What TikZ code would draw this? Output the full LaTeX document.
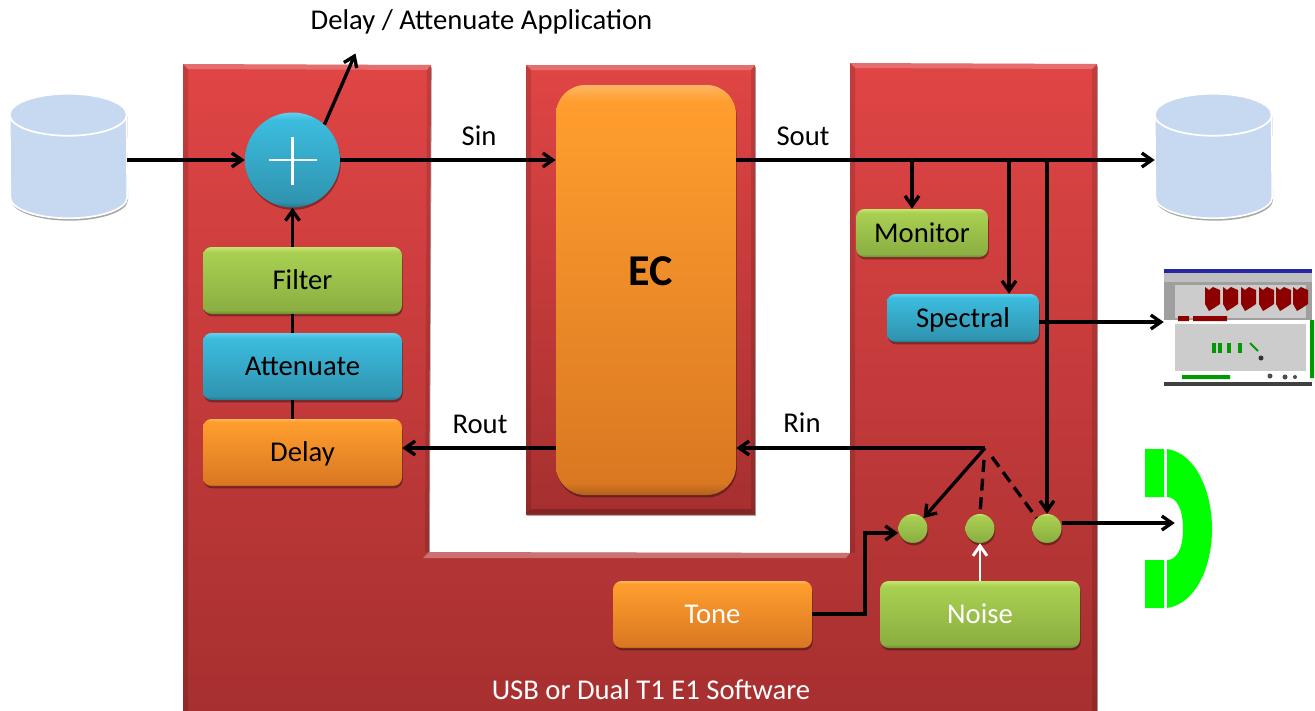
\documentclass[tikz,border=0pt]{standalone}
\usepackage{fontspec}
\setmainfont{Carlito}
\usetikzlibrary{arrows.meta,shadows,calc}
\definecolor{redT}{HTML}{E04545}\definecolor{redB}{HTML}{A62F2F}
\definecolor{dbfill}{HTML}{C6D9F1}
\definecolor{phonegreen}{HTML}{00FF00}
\definecolor{gE}{HTML}{C4E56E}\definecolor{gT}{HTML}{A9D052}\definecolor{gB}{HTML}{8BAF41}\definecolor{gD}{HTML}{6F8C33}
\definecolor{bE}{HTML}{62D0EC}\definecolor{bT}{HTML}{3CBCDE}\definecolor{bB}{HTML}{2F94B0}\definecolor{bD}{HTML}{25768C}
\definecolor{oE}{HTML}{FFB662}\definecolor{oT}{HTML}{FF9E2E}\definecolor{oB}{HTML}{DA7822}\definecolor{oD}{HTML}{B0611B}
\pgfdeclareverticalshading{redbody}{100bp}{color(0bp)=(redB);color(25bp)=(redB);color(75bp)=(redT);color(100bp)=(redT)}
\pgfdeclareverticalshading{greenbox}{100bp}{color(0bp)=(gD);color(25bp)=(gD);color(28bp)=(gB);color(71bp)=(gT);color(75bp)=(gE);color(100bp)=(gE)}
\pgfdeclareverticalshading{bluebox}{100bp}{color(0bp)=(bD);color(25bp)=(bD);color(28bp)=(bB);color(71bp)=(bT);color(75bp)=(bE);color(100bp)=(bE)}
\pgfdeclareverticalshading{orangebox}{100bp}{color(0bp)=(oD);color(25bp)=(oD);color(26.5bp)=(oB);color(73bp)=(oT);color(75bp)=(oE);color(100bp)=(oE)}
\tikzset{
  x=0.75pt,y=-0.75pt,
  sz/.style 2 args={minimum width=#1*0.75pt,minimum height=#2*0.75pt,inner sep=0pt},
  softshadow/.style={drop shadow={shadow xshift=0.6pt,shadow yshift=-1.8pt,opacity=0.35,fill=black}},
  boxbase/.style={rectangle,rounded corners=6.5pt,softshadow,font=\fontsize{21.5}{24}\selectfont,text=black,text height=15pt,text depth=1.4pt},
  gbox/.style={boxbase,shading=greenbox},
  bbox/.style={boxbase,shading=bluebox},
  obox/.style={boxbase,shading=orangebox},
  whitetext/.style={text=white},
  dot/.style={circle,sz={29}{29},shading=greenbox,softshadow},
  adderstyle/.style={circle,sz={95}{95},shading=bluebox,softshadow},
  dbstyle/.style={rectangle,sz={117}{124}},
  lbl/.style={font=\fontsize{21.5}{24}\selectfont,text=black,inner sep=0pt,text height=15pt,text depth=1.4pt},
  arr/.style={line width=2.5pt,black,-{Straight Barb[length=7.5pt,width=10.5pt,line width=2.5pt]}},
  plain/.style={line width=2.5pt,black},
  dashline/.style={line width=2.5pt,black,dash pattern=on 9pt off 5pt},
  whitearr/.style={line width=2.2pt,white,-{Straight Barb[length=7.5pt,width=10.5pt,line width=2.2pt]}},
  bodyface/.style={shading=redbody,softshadow},
}
\newcommand{\dbshape}[1]{%
  \path[fill=dbfill,draw=white,line width=1.3pt,softshadow]
    ($(#1.north west)+(0,21)$) arc[x radius=58.5,y radius=21,start angle=180,end angle=360]
    -- ($(#1.south east)+(0,-21)$) arc[x radius=58.5,y radius=21,start angle=0,end angle=180] -- cycle;
  \draw[white,line width=1.3pt] ($(#1.north west)+(0,21)$) arc[x radius=58.5,y radius=21,start angle=180,end angle=0];
}
\begin{document}
\begin{tikzpicture}
\useasboundingbox (0,0) rectangle (1315,711);
\fill[white] (0,0) rectangle (1315,711);
% red bodies
\clip (0,0) rectangle (1315,711);
\path[bodyface] (183,64) -- (431,65) -- (429,552) -- (850,553) -- (850,63) -- (1097,64) -- (1097,720) -- (183,720) -- cycle;
\path[shading=redbody,softshadow] (526,65) rectangle (755,514);
% bevel strips
\fill[white,opacity=.22] (183,64) -- (431,65) -- (427,70) -- (188,69) -- cycle;
\fill[white,opacity=.22] (526,65) -- (755,65) -- (751,70) -- (531,70) -- cycle;
\fill[white,opacity=.22] (850,63) -- (1097,64) -- (1092,69) -- (855,68) -- cycle;
\fill[white,opacity=.3] (429,552) -- (850,553) -- (846,558) -- (423,558) -- cycle;
\fill[black,opacity=.12] (183,64) -- (188,69) -- (188,711) -- (183,711) -- cycle;
\fill[black,opacity=.12] (431,65) -- (427,70) -- (425,552) -- (429,552) -- cycle;
\fill[black,opacity=.12] (526,65) -- (531,70) -- (531,509) -- (526,514) -- cycle;
\fill[black,opacity=.12] (755,65) -- (751,70) -- (751,509) -- (755,514) -- cycle;
\fill[black,opacity=.2] (526,514) -- (531,509) -- (751,509) -- (755,514) -- cycle;
\fill[black,opacity=.12] (850,63) -- (855,68) -- (855,553) -- (850,553) -- cycle;
\fill[black,opacity=.12] (1097,64) -- (1092,69) -- (1092,711) -- (1097,711) -- cycle;
% nodes
\node[dbstyle] (dbL) at (68.5,156) {};
\node[dbstyle] (dbR) at (1213.5,156) {};
\dbshape{dbL}
\dbshape{dbR}
\node[adderstyle] (adder) at (292.5,160) {};
\node[obox,sz={180}{410},rounded corners=22pt] (ec) at (646,290) {};
\node[font=\fontsize{33}{36}\selectfont\bfseries,inner sep=0pt] (ectext) at (651,271) {EC};
\node[gbox,sz={199}{67}] (filter) at (302.5,280.5) {Filter};
\node[bbox,sz={199}{67}] (att) at (302.5,366.5) {Attenuate};
\node[obox,sz={199}{67}] (delay) at (302.5,452.5) {Delay};
\node[gbox,sz={132}{48}] (monitor) at (922,233) {Monitor};
\node[bbox,sz={152}{48}] (spectral) at (963,318) {Spectral};
\node[obox,sz={199}{67},whitetext] (tone) at (712.5,614.5) {Tone};
\node[gbox,sz={200}{67},whitetext] (noise) at (980,614.5) {Noise};
\node[dot] (d1) at (913,528.5) {};
\node[dot] (d2) at (980,528.5) {};
\node[dot] (d3) at (1047,528.5) {};
% labels
\node[lbl] (appl) at (481.5,20) {Delay / Attenuate Application};
\node[lbl] (sin) at (479,136) {Sin};
\node[lbl] (sout) at (803,136) {Sout};
\node[lbl] (rout) at (480,424) {Rout};
\node[lbl] (rin) at (802,423) {Rin};
\node[lbl,text=white] (usb) at (651,690) {USB or Dual T1 E1 Software};
% plus sign
\coordinate (pl) at (269,160);\coordinate (pr) at (317,160);
\coordinate (pt) at (292.5,137);\coordinate (pb) at (292.5,185);
\draw[white,line width=1.9pt] (pl) -- (pr) (pt) -- (pb);
% thumbnail
\fill[white] (1164,269) rectangle (1314,386);
\fill[gray!75] (1164,282) rectangle (1312,320);
\fill[gray!40] (1175,285) rectangle (1306,318);
\fill[gray!40] (1175,324) rectangle (1306,371);
\fill[blue!55!black!85] (1164,269) rectangle (1312,273);
\fill[gray!50] (1164,273) rectangle (1312,282);
\foreach \bx in {1205,1223,1241,1259,1276,1293}{
  \fill[red!55!black] (\bx,287) -- (\bx+4,290) -- (\bx+8,287) -- (\bx+15,290) -- (\bx+15,304) -- (\bx+9,308) -- (\bx+4,311) -- (\bx,304) -- cycle;
}
\fill[red!55!black] (1178,316) rectangle (1189,321) (1193,316) rectangle (1227,321);
\fill[green!60!black] (1310,320) rectangle (1314,378) (1182,375) rectangle (1230,379);
\foreach \gx in {1212,1218,1227,1238}{\fill[green!60!black] (\gx,343) rectangle (\gx+4,353);}
\draw[green!60!black,line width=1.5pt] (1250,343) -- (1258,351);
\fill[black!80] (1261,358) circle (2.5);
\fill[black!70] (1270,376) circle (2.5) (1285,377) circle (2.5) (1295,377) circle (2);
\fill[black!75] (1164,382) rectangle (1312,386);
% phone
\fill[phonegreen] (1145,449) rectangle (1164,497) (1145,560) rectangle (1164,608);
\fill[phonegreen] (1167,449) .. controls (1195,453) and (1212,490) .. (1212,529) .. controls (1212,568) and (1195,604) .. (1167,608) -- (1167,560) .. controls (1176,560) and (1183,550) .. (1183,529) .. controls (1183,508) and (1176,497) .. (1167,497) -- cycle;
\node[sz={48}{160}] (ph) at (1189,528.5) {};
\node[sz={150}{117}] (thumb) at (1239,327.5) {};
% connectors
\draw[arr] (dbL.east |- adder.west) -- (adder.west);
\draw[arr] (adder.east) -- (adder.east -| ec.west);
\draw[arr] (adder.48) -- ++(31,-71);
\draw[arr] (filter.north -| adder.south) -- (adder.south);
\draw[plain] (att.north -| adder.south) -- (filter.south -| adder.south);
\draw[plain] (delay.north -| adder.south) -- (att.south -| adder.south);
\draw[arr] (ec.east |- adder.east) -- (dbR.west |- adder.east);
\coordinate (b1) at (912,160);\coordinate (b2) at (1009,160);\coordinate (b3) at (1047,160);
\draw[arr] (b1) -- (b1 |- monitor.north);
\draw[arr] (b2) -- (b2 |- spectral.north);
\draw[arr] (b3) -- (d3.north);
\coordinate (sp) at (1039,322);
\draw[arr] (sp) -- (sp -| thumb.west);
\coordinate (sw) at (985,448);
\draw[arr] (sw) -- (sw -| ec.east);
\draw[arr] (ec.west |- sw) -- (delay.east |- sw);
\draw[arr] (sw) -- (d1.45);
\draw[dashline] ($(sw)+(-1,12)$) -- (d2.north);
\draw[dashline] ($(sw)+(7,9)$) -- (d3.135);
\draw[whitearr] (noise.north) -- (d2.south);
\coordinate (tn) at (865,614);
\draw[arr] (tone.east |- tn) -- (tn) |- ($(d1.west)+(0,4.5)$);
\draw[arr] ($(d3.east)+(0,-5.5)$) -- ($(ph.west)+(10,-5.5)$);
\end{tikzpicture}
\end{document}
